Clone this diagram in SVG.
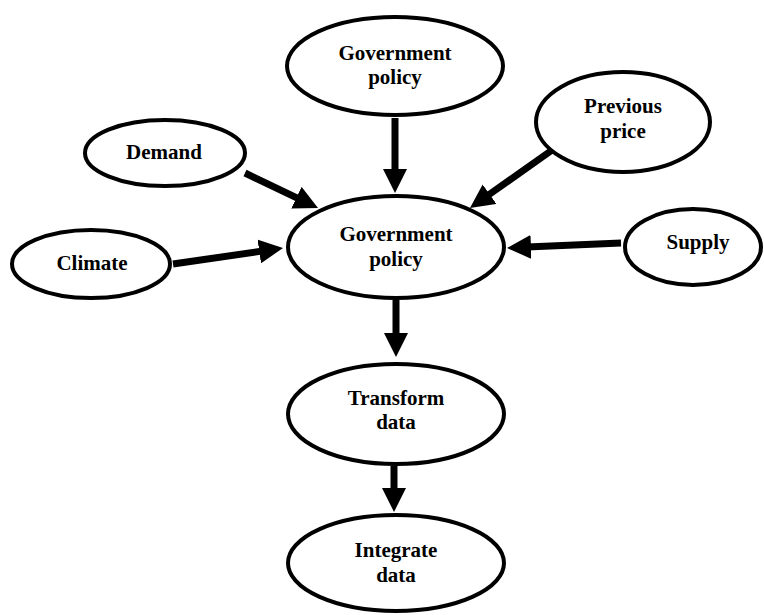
<svg xmlns="http://www.w3.org/2000/svg" width="764" height="615" viewBox="0 0 764 615">
<style>
.node ellipse{fill:#fff;stroke:#000;stroke-width:4}
.node text{font-family:"Liberation Serif","Times New Roman",serif;font-weight:bold;font-size:21px;text-anchor:middle;fill:#000}
.conn line{stroke:#000;stroke-width:7;marker-end:url(#ah)}
</style>
<defs>
<marker id="ah" markerUnits="userSpaceOnUse" markerWidth="24" markerHeight="24" viewBox="0 0 24 24" refX="4" refY="12" orient="auto">
<path d="M0,0 L24,12 L0,24 z" fill="#000"/>
</marker>
</defs>
<rect width="764" height="615" fill="#fff"/>
<g class="conn">
<line x1="395" y1="118" x2="395" y2="173"/>
<line x1="396" y1="300" x2="396" y2="337"/>
<line x1="394" y1="466" x2="394" y2="492"/>
<line x1="245" y1="173" x2="300" y2="199.4"/>
<line x1="173" y1="264" x2="263.2" y2="250.9"/>
<line x1="555" y1="148" x2="486.3" y2="196.5"/>
<line x1="621" y1="243" x2="527" y2="247.1"/>
</g>
<g id="gov-top" class="node"><ellipse cx="395" cy="66" rx="108" ry="49"/><text x="395" y="60">Government</text><text x="395" y="84">policy</text></g>
<g id="demand" class="node"><ellipse cx="165" cy="153" rx="80" ry="33"/><text x="164" y="159">Demand</text></g>
<g id="prev-price" class="node"><ellipse cx="623" cy="122" rx="87" ry="50"/><text x="623" y="113">Previous</text><text x="623" y="138">price</text></g>
<g id="climate" class="node"><ellipse cx="91" cy="264" rx="79" ry="34"/><text x="92" y="270">Climate</text></g>
<g id="gov-center" class="node"><ellipse cx="396" cy="247" rx="108" ry="51"/><text x="396" y="241">Government</text><text x="396" y="266">policy</text></g>
<g id="supply" class="node"><ellipse cx="693" cy="247" rx="68" ry="38"/><text x="698" y="249">Supply</text></g>
<g id="transform" class="node"><ellipse cx="396" cy="414" rx="108" ry="50"/><text x="396" y="405">Transform</text><text x="396" y="429">data</text></g>
<g id="integrate" class="node"><ellipse cx="396" cy="563" rx="108" ry="48"/><text x="396" y="557">Integrate</text><text x="396" y="582">data</text></g>
</svg>
